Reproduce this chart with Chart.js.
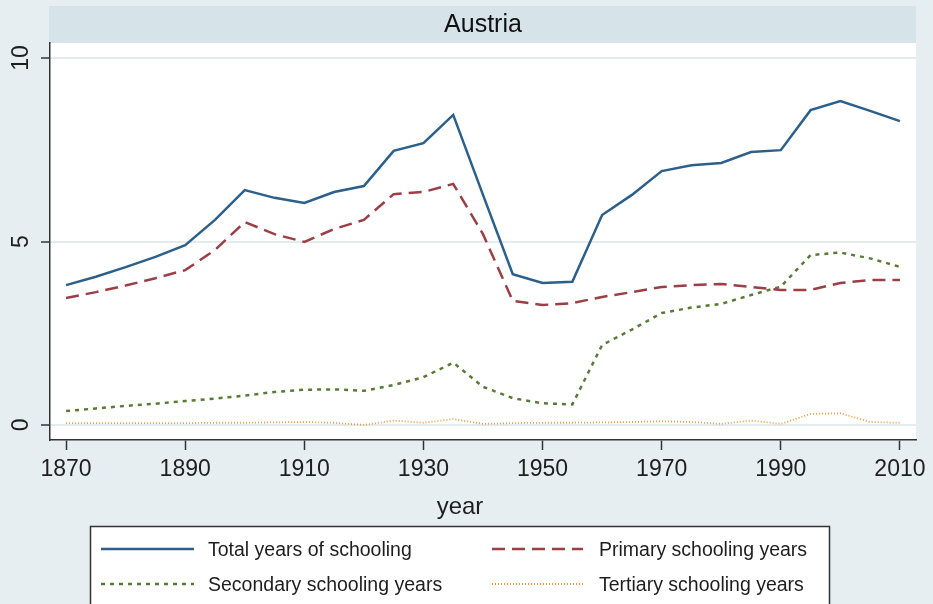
<!DOCTYPE html>
<html>
<head>
<meta charset="utf-8">
<script src="https://cdn.jsdelivr.net/npm/chart.js@4/dist/chart.umd.min.js"></script>
<style>
html,body{margin:0;padding:0;background:#E7EEF1;}
canvas{display:block;}
</style>
</head>
<body>
<canvas id="c" width="933" height="604"></canvas>
<script>
// ---- data ----
const years = [1870,1875,1880,1885,1890,1895,1900,1905,1910,1915,1920,1925,1930,1935,1940,1945,1950,1955,1960,1965,1970,1975,1980,1985,1990,1995,2000,2005,2010];
const totalYears = [3.81,4.04,4.30,4.58,4.90,5.59,6.40,6.19,6.05,6.35,6.51,7.47,7.68,8.45,6.27,4.11,3.87,3.90,5.72,6.27,6.92,7.08,7.14,7.44,7.49,8.58,8.83,8.56,8.28];
const primaryYears = [3.46,3.62,3.80,4.00,4.22,4.77,5.53,5.20,4.99,5.34,5.59,6.29,6.35,6.57,5.20,3.38,3.27,3.32,3.49,3.62,3.76,3.81,3.84,3.76,3.68,3.68,3.87,3.95,3.95];
const secondaryYears = [0.38,0.45,0.52,0.58,0.65,0.72,0.80,0.90,0.96,0.97,0.93,1.09,1.30,1.70,1.04,0.73,0.59,0.56,2.18,2.60,3.05,3.20,3.30,3.54,3.77,4.63,4.70,4.54,4.31];
const tertiaryYears = [0.05,0.05,0.05,0.05,0.05,0.06,0.06,0.07,0.08,0.06,0.00,0.12,0.06,0.16,0.03,0.05,0.06,0.06,0.07,0.08,0.10,0.08,0.03,0.12,0.03,0.30,0.32,0.08,0.06];
const seriesLabels = ["Total years of schooling","Primary schooling years","Secondary schooling years","Tertiary schooling years"];
const xTickLabels = [1870,1890,1910,1930,1950,1970,1990,2010];
const yTickLabels = [0,5,10];
const panelTitle = "Austria";
const xTitle = "year";

const FONT = '"Liberation Sans", Arial, Helvetica, sans-serif';

function pts(vals){ return years.map((y,i)=>({x:y, y:vals[i]})); }

const decoPlugin = {
  id: 'deco',
  beforeDraw(chart){
    const {ctx, chartArea:a} = chart;
    ctx.save();
    ctx.fillStyle = '#E7EEF1';
    ctx.fillRect(0,0,chart.width,chart.height);
    ctx.fillStyle = '#D6E3E9';
    ctx.fillRect(a.left-1, 6, a.right-a.left+1, a.top-6);
    ctx.fillStyle = '#FFFFFF';
    ctx.fillRect(a.left, a.top, a.right-a.left, a.bottom-a.top);
    ctx.fillStyle = '#111';
    ctx.font = '25px ' + FONT;
    ctx.textAlign = 'center';
    ctx.textBaseline = 'middle';
    ctx.fillText(panelTitle, (a.left+a.right)/2, 25);
    ctx.restore();
  },
  afterDraw(chart){
    const {ctx} = chart;
    const ys = chart.scales.y;
    ctx.save();
    // rotated y tick labels
    ctx.fillStyle = '#1E1E1E';
    ctx.font = '23px ' + FONT;
    ctx.textAlign = 'center';
    ctx.textBaseline = 'middle';
    yTickLabels.forEach(v=>{
      const py = ys.getPixelForValue(v);
      ctx.save();
      ctx.translate(22, py);
      ctx.rotate(-Math.PI/2);
      ctx.fillText(String(v), 0, 0);
      ctx.restore();
    });
    // x axis title
    ctx.font = '24px ' + FONT;
    ctx.textBaseline = 'alphabetic';
    ctx.fillText(xTitle, 460, 514);
    // legend box
    ctx.fillStyle = '#FFFFFF';
    ctx.fillRect(90, 526, 740, 100);
    ctx.strokeStyle = '#333';
    ctx.lineWidth = 1.5;
    ctx.strokeRect(90.5, 526.5, 739, 100);
    const slots = [
      {x1:101, x2:194, tx:208, y:549},
      {x1:492, x2:583, tx:599, y:549},
      {x1:101, x2:194, tx:208, y:584},
      {x1:492, x2:583, tx:599, y:584}
    ];
    chart.data.datasets.forEach((ds,i)=>{
      const s = slots[i];
      ctx.save();
      ctx.strokeStyle = ds.borderColor;
      ctx.lineWidth = ds.borderWidth;
      ctx.setLineDash(ds.borderDash || []);
      ctx.beginPath();
      ctx.moveTo(s.x1, s.y);
      ctx.lineTo(s.x2, s.y);
      ctx.stroke();
      ctx.restore();
      ctx.fillStyle = '#1E1E1E';
      ctx.font = '19.5px ' + FONT;
      ctx.textAlign = 'left';
      ctx.textBaseline = 'middle';
      ctx.fillText(ds.label, s.tx, s.y + 2);
    });
    ctx.restore();
  }
};

new Chart(document.getElementById('c'), {
  type: 'line',
  data: {
    datasets: [
      {label: seriesLabels[0], data: pts(totalYears), borderColor:'#2C5F8A', borderWidth:2.5, borderDash:[], pointRadius:0, tension:0},
      {label: seriesLabels[1], data: pts(primaryYears), borderColor:'#9C3E46', borderWidth:2.5, borderDash:[13,7], pointRadius:0, tension:0},
      {label: seriesLabels[2], data: pts(secondaryYears), borderColor:'#5A7A35', borderWidth:2.5, borderDash:[4,5], pointRadius:0, tension:0},
      {label: seriesLabels[3], data: pts(tertiaryYears), borderColor:'#EE9A40', borderWidth:1.8, borderDash:[1,2], pointRadius:0, tension:0}
    ]
  },
  options: {
    responsive: false,
    animation: false,
    devicePixelRatio: 1,
    layout: {padding: {top:43, right:17, left:0, bottom:0}},
    plugins: {legend:{display:false}, tooltip:{enabled:false}, title:{display:false}},
    scales: {
      x: {
        type: 'linear', min: 1867.3, max: 2012.7,
        afterBuildTicks: s => { s.ticks = xTickLabels.map(v=>({value:v})); },
        afterFit: s => { s.height = 164; },
        grid: {drawOnChartArea:false, drawTicks:true, tickLength:10, tickColor:'#333', tickWidth:1.5, color:'#333'},
        border: {color:'#333', width:1.5},
        ticks: {font:{size:23, family:FONT}, color:'#1E1E1E', padding:6, maxRotation:0, minRotation:0, autoSkip:false, callback: v => String(v)}
      },
      y: {
        type: 'linear', min: -0.41, max: 10.41,
        afterBuildTicks: s => { s.ticks = yTickLabels.map(v=>({value:v})); },
        afterFit: s => { s.width = 50; },
        grid: {color:'#E2EBEE', lineWidth:2, drawTicks:true, tickLength:9, tickColor:'#333', tickWidth:1.5},
        border: {color:'#333', width:1.5},
        ticks: {display:false}
      }
    }
  },
  plugins: [decoPlugin]
});
</script>
</body>
</html>
